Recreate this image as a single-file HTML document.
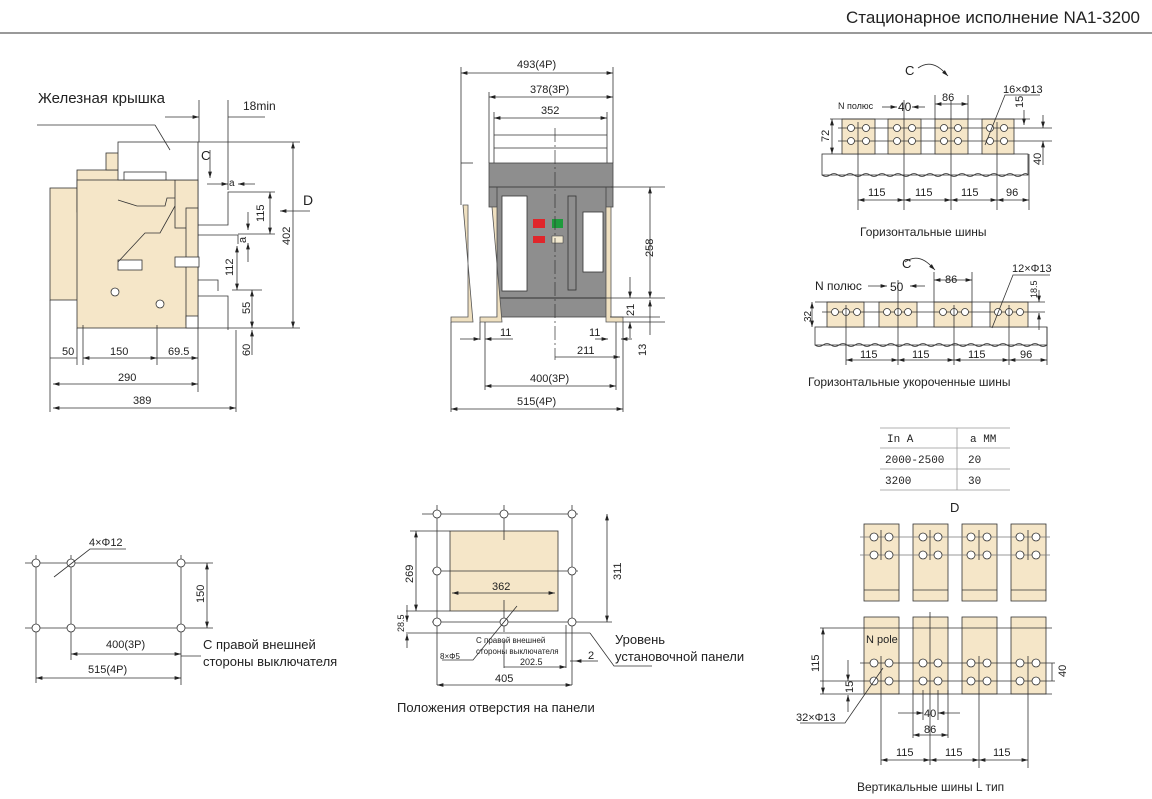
<!DOCTYPE html>
<html><head><meta charset="utf-8"><style>
html,body{margin:0;padding:0;background:#fff}
svg{display:block}
text{font-family:"Liberation Sans",sans-serif;fill:#222}
</style></head><body>
<svg width="1152" height="799" viewBox="0 0 1152 799" xmlns="http://www.w3.org/2000/svg">
<defs>
<marker id="a" viewBox="0 0 10 6" refX="10" refY="3" markerWidth="8" markerHeight="5" orient="auto-start-reverse"><path d="M0,0L10,3L0,6z" fill="#222"/></marker>
</defs>
<text x="1140" y="23" font-size="17" text-anchor="end">Стационарное исполнение NA1-3200</text>
<line x1="0" y1="33" x2="1152" y2="33" stroke="#333" stroke-width="1"/>

<!-- LEFT SIDE VIEW -->
<g stroke="#333" stroke-width="0.8" fill="#f5e6c8">
<rect x="50" y="188" width="28" height="112"/>
<rect x="77" y="170" width="42" height="42"/>
<rect x="106" y="153" width="13" height="17"/>
<rect x="77" y="180" width="121" height="148"/>
<rect x="175" y="180" width="23" height="48"/>
<rect x="186" y="208" width="12" height="117"/>
<rect x="186" y="316" width="12" height="12" fill="#fff"/>
<rect x="118" y="142" width="80" height="38" fill="#fff"/>
<rect x="124" y="172" width="42" height="8" fill="#fff"/>
<rect x="118" y="260" width="24" height="10" fill="#fff"/>
<rect x="175" y="257" width="24" height="10" fill="#fff"/>
<circle cx="115" cy="292" r="4" fill="#fff"/><circle cx="160" cy="304" r="4" fill="#fff"/>
</g>
<g stroke="#333" stroke-width="0.8" fill="none">
<polyline points="118,200 137,206 165,206 167,198 175,198"/>
<polyline points="118,262 145,233 160,233 175,206"/>
<line x1="37" y1="125" x2="155" y2="125"/><line x1="155" y1="125" x2="170" y2="150"/>
<polyline points="198,225 228,225 228,192 235,192"/>
<polyline points="198,235 238,235 238,244"/>
<polyline points="198,280 218,280 218,291"/>
<polyline points="198,296 228,296 228,330"/>
<line x1="235" y1="192" x2="275" y2="192"/><line x1="238" y1="234" x2="275" y2="234"/>
<line x1="232" y1="290" x2="262" y2="290"/><line x1="198" y1="328" x2="300" y2="328"/>
<line x1="198" y1="142" x2="300" y2="142"/>
<line x1="199" y1="100" x2="199" y2="142"/><line x1="228" y1="100" x2="228" y2="190"/>
<line x1="165" y1="117" x2="199" y2="117" marker-end="url(#a)"/><line x1="228" y1="117" x2="265" y2="117"/>
<line x1="210" y1="150" x2="210" y2="178" marker-end="url(#a)"/>
<line x1="207" y1="184" x2="228" y2="184" marker-end="url(#a)"/><line x1="255" y1="184" x2="238" y2="184" marker-end="url(#a)"/>
<line x1="270" y1="192" x2="270" y2="234" marker-start="url(#a)" marker-end="url(#a)"/>
<line x1="248" y1="212" x2="248" y2="230" marker-end="url(#a)"/><line x1="248" y1="262" x2="248" y2="243" marker-end="url(#a)"/>
<line x1="237" y1="246" x2="237" y2="290" marker-start="url(#a)" marker-end="url(#a)"/>
<line x1="252" y1="290" x2="252" y2="328" marker-start="url(#a)" marker-end="url(#a)"/>
<line x1="252" y1="355" x2="252" y2="330" marker-end="url(#a)"/>
<line x1="293" y1="142" x2="293" y2="328" marker-start="url(#a)" marker-end="url(#a)"/>
<line x1="310" y1="211" x2="280" y2="211" marker-end="url(#a)"/>
<line x1="50" y1="300" x2="50" y2="412"/><line x1="77" y1="328" x2="77" y2="365"/><line x1="83" y1="325" x2="83" y2="365"/>
<line x1="157" y1="325" x2="157" y2="365"/><line x1="198" y1="328" x2="198" y2="392"/><line x1="236" y1="330" x2="236" y2="412"/>
<line x1="50" y1="358" x2="77" y2="358"/>
<line x1="83" y1="358" x2="157" y2="358" marker-start="url(#a)" marker-end="url(#a)"/>
<line x1="157" y1="358" x2="198" y2="358" marker-end="url(#a)"/>
<line x1="53" y1="384" x2="198" y2="384" marker-start="url(#a)" marker-end="url(#a)"/>
<line x1="53" y1="408" x2="236" y2="408" marker-start="url(#a)" marker-end="url(#a)"/>
</g>
<text x="38" y="103" font-size="15">Железная крышка</text>
<text x="243" y="110" font-size="12">18min</text>
<text x="201" y="160" font-size="13">C</text>
<text x="303" y="205" font-size="14">D</text>
<text x="229" y="186" font-size="10">a</text>
<text x="62" y="355" font-size="11">50</text><text x="110" y="355" font-size="11">150</text><text x="168" y="355" font-size="11">69.5</text>
<text x="118" y="381" font-size="11">290</text><text x="133" y="404" font-size="11">389</text>
<g font-size="11"><text transform="translate(264,222) rotate(-90)">115</text><text transform="translate(246,243) rotate(-90)">a</text>
<text transform="translate(233,276) rotate(-90)">112</text><text transform="translate(250,314) rotate(-90)">55</text>
<text transform="translate(250,356) rotate(-90)">60</text><text transform="translate(290,245) rotate(-90)">402</text></g>

<!-- MIDDLE FRONT VIEW -->
<g stroke="#333" stroke-width="0.8" fill="none">
<line x1="461" y1="67" x2="461" y2="205"/><line x1="461" y1="163" x2="473" y2="163"/>
<line x1="613" y1="67" x2="613" y2="163"/><line x1="489" y1="92" x2="489" y2="163"/><line x1="494" y1="112" x2="494" y2="163"/><line x1="607" y1="112" x2="607" y2="163"/>
<line x1="461" y1="73" x2="613" y2="73" marker-start="url(#a)" marker-end="url(#a)"/>
<line x1="489" y1="97" x2="613" y2="97" marker-start="url(#a)" marker-end="url(#a)"/>
<line x1="494" y1="118" x2="607" y2="118" marker-start="url(#a)" marker-end="url(#a)"/>
<line x1="494" y1="135" x2="607" y2="135"/><line x1="494" y1="148" x2="607" y2="148"/>
</g>
<rect x="489" y="163" width="124" height="44" fill="#8e8e8e" stroke="#444" stroke-width="0.8"/>
<rect x="497" y="187" width="109" height="130" fill="#8e8e8e" stroke="#444" stroke-width="0.8"/>
<line x1="489" y1="187" x2="613" y2="187" stroke="#444"/>
<line x1="497" y1="298" x2="606" y2="298" stroke="#333"/>
<rect x="502" y="196" width="25" height="95" fill="#fff" stroke="#333" stroke-width="0.8"/>
<rect x="583" y="212" width="20" height="60" fill="#fff" stroke="#333" stroke-width="0.8"/>
<rect x="568" y="196" width="8" height="94" fill="#8e8e8e" stroke="#333" stroke-width="0.8"/>
<rect x="533" y="219" width="12" height="9" fill="#e0262b"/><rect x="552" y="219" width="11" height="9" fill="#1e9a3c"/>
<rect x="533" y="236" width="12" height="7" fill="#e0262b"/><rect x="552" y="236" width="11" height="7" fill="#f3ead0" stroke="#333" stroke-width="0.5"/>
<line x1="555" y1="128" x2="555" y2="360" stroke="#333" stroke-width="0.7" stroke-dasharray="14,3,2,3"/>
<g fill="#efe0c0" stroke="#555" stroke-width="0.8">
<path d="M463,205 h5 v112 h-17 v5 h22 z"/>
<path d="M492,207 h5 v110 h-17 v5 h22 z"/>
<path d="M606,207 h5 v110 h12 v5 h-17 z"/>
</g>
<g stroke="#333" stroke-width="0.8" fill="none">
<line x1="611" y1="187" x2="665" y2="187"/><line x1="606" y1="298" x2="665" y2="298"/><line x1="610" y1="317" x2="660" y2="317"/><line x1="623" y1="322" x2="665" y2="322"/>
<line x1="650" y1="187" x2="650" y2="298" marker-start="url(#a)" marker-end="url(#a)"/>
<line x1="630" y1="277" x2="630" y2="298" marker-end="url(#a)"/><line x1="650" y1="335" x2="650" y2="300" marker-end="url(#a)"/>
<line x1="630" y1="338" x2="630" y2="322" marker-end="url(#a)"/>
<line x1="451" y1="322" x2="451" y2="412"/><line x1="480" y1="322" x2="480" y2="340"/><line x1="485" y1="322" x2="485" y2="390"/>
<line x1="623" y1="322" x2="623" y2="412"/><line x1="616" y1="322" x2="616" y2="390"/>
<line x1="460" y1="339" x2="480" y2="339" marker-end="url(#a)"/><line x1="513" y1="339" x2="485" y2="339" marker-end="url(#a)"/>
<line x1="595" y1="339" x2="608" y2="339" marker-end="url(#a)"/><line x1="632" y1="339" x2="621" y2="339" marker-end="url(#a)"/>
<line x1="555" y1="357" x2="620" y2="357" marker-end="url(#a)"/>
<line x1="485" y1="386" x2="616" y2="386" marker-start="url(#a)" marker-end="url(#a)"/>
<line x1="451" y1="409" x2="623" y2="409" marker-start="url(#a)" marker-end="url(#a)"/>
</g>
<g font-size="11">
<text x="517" y="68">493(4P)</text><text x="530" y="93">378(3P)</text><text x="541" y="114">352</text>
<text x="500" y="336">11</text><text x="589" y="336">11</text><text x="577" y="354">211</text>
<text x="530" y="382">400(3P)</text><text x="517" y="405">515(4P)</text>
<text transform="translate(653,257) rotate(-90)">258</text><text transform="translate(634,316) rotate(-90)">21</text><text transform="translate(646,356) rotate(-90)">13</text>
</g>

<!-- RIGHT TOP: horizontal busbars -->
<g stroke="#333" stroke-width="0.8">
<rect x="822" y="154" width="206" height="21" fill="#fff"/>
<path d="M822,175 q4,3 8,0 t8,0 t8,0 t8,0 t8,0 t8,0 t8,0 t8,0 t8,0 t8,0 t8,0 t8,0 t8,0 t8,0 t8,0 t8,0 t8,0 t8,0 t8,0 t8,0 t8,0 t8,0 t8,0 t8,0 t8,0 t6,0" fill="none"/>
<g fill="#f5e6c8"><rect x="842" y="119" width="33" height="35"/><rect x="888" y="119" width="33" height="35"/><rect x="935" y="119" width="33" height="35"/><rect x="982" y="119" width="32" height="35"/></g>
</g>
<g stroke="#333" stroke-width="0.8" fill="none">
<line x1="830" y1="119" x2="1030" y2="119"/>
<line x1="838" y1="128" x2="1052" y2="128"/><line x1="838" y1="141" x2="1052" y2="141"/>
<g fill="#fff"><circle cx="851" cy="128" r="3.5"/><circle cx="866" cy="128" r="3.5"/><circle cx="851" cy="141" r="3.5"/><circle cx="866" cy="141" r="3.5"/>
<circle cx="897" cy="128" r="3.5"/><circle cx="912" cy="128" r="3.5"/><circle cx="897" cy="141" r="3.5"/><circle cx="912" cy="141" r="3.5"/>
<circle cx="944" cy="128" r="3.5"/><circle cx="958" cy="128" r="3.5"/><circle cx="944" cy="141" r="3.5"/><circle cx="958" cy="141" r="3.5"/>
<circle cx="990" cy="128" r="3.5"/><circle cx="1004" cy="128" r="3.5"/><circle cx="990" cy="141" r="3.5"/><circle cx="1004" cy="141" r="3.5"/></g>
<line x1="858" y1="122" x2="858" y2="210"/><line x1="904" y1="100" x2="904" y2="210"/><line x1="951" y1="100" x2="951" y2="210"/><line x1="997" y1="122" x2="997" y2="210"/><line x1="1029" y1="154" x2="1029" y2="210"/>
<line x1="935" y1="95" x2="935" y2="119"/><line x1="968" y1="95" x2="968" y2="119"/>
<line x1="935" y1="104" x2="968" y2="104" marker-start="url(#a)" marker-end="url(#a)"/>
<line x1="882" y1="107" x2="897" y2="107" marker-end="url(#a)"/><line x1="925" y1="107" x2="912" y2="107" marker-end="url(#a)"/>
<line x1="832" y1="119" x2="832" y2="154" marker-start="url(#a)" marker-end="url(#a)"/>
<line x1="858" y1="200" x2="904" y2="200" marker-start="url(#a)" marker-end="url(#a)"/>
<line x1="904" y1="200" x2="951" y2="200" marker-start="url(#a)" marker-end="url(#a)"/>
<line x1="951" y1="200" x2="997" y2="200" marker-start="url(#a)" marker-end="url(#a)"/>
<line x1="997" y1="200" x2="1029" y2="200" marker-start="url(#a)" marker-end="url(#a)"/>
<polyline points="985,145 1005,95 1040,95"/>
<line x1="1024" y1="110" x2="1024" y2="125" marker-end="url(#a)"/><line x1="1043" y1="115" x2="1043" y2="128" marker-end="url(#a)"/>
<line x1="1043" y1="165" x2="1043" y2="141" marker-end="url(#a)"/>
<path d="M918,68 q14,-10 28,6" /><line x1="946" y1="74" x2="948" y2="76" marker-end="url(#a)"/>
</g>
<g font-size="11">
<text x="905" y="75" font-size="13">C</text><text x="838" y="109" font-size="9">N полюс</text><text x="898" y="111" font-size="12">40</text>
<text x="942" y="101">86</text><text x="1003" y="93">16×Φ13</text>
<text x="868" y="196">115</text><text x="915" y="196">115</text><text x="961" y="196">115</text><text x="1006" y="196">96</text>
<text transform="translate(829,142) rotate(-90)">72</text><text transform="translate(1023,108) rotate(-90)">15</text><text transform="translate(1041,165) rotate(-90)">40</text>
</g>
<text x="860" y="236" font-size="12">Горизонтальные шины</text>

<!-- RIGHT MIDDLE: short busbars -->
<g stroke="#333" stroke-width="0.8">
<rect x="815" y="327" width="232" height="18" fill="#fff"/>
<path d="M815,345 q4,3 8,0 t8,0 t8,0 t8,0 t8,0 t8,0 t8,0 t8,0 t8,0 t8,0 t8,0 t8,0 t8,0 t8,0 t8,0 t8,0 t8,0 t8,0 t8,0 t8,0 t8,0 t8,0 t8,0 t8,0 t8,0 t8,0 t8,0 t8,0 t8,0" fill="none"/>
<g fill="#f5e6c8"><rect x="827" y="302" width="37" height="25"/><rect x="879" y="302" width="38" height="25"/><rect x="934" y="302" width="38" height="25"/><rect x="990" y="302" width="38" height="25"/></g>
</g>
<g stroke="#333" stroke-width="0.8" fill="none">
<line x1="815" y1="302" x2="1045" y2="302"/><line x1="822" y1="312" x2="1045" y2="312"/>
<g fill="#fff"><circle cx="835" cy="312" r="3.5"/><circle cx="846" cy="312" r="3.5"/><circle cx="857" cy="312" r="3.5"/>
<circle cx="887" cy="312" r="3.5"/><circle cx="898" cy="312" r="3.5"/><circle cx="908" cy="312" r="3.5"/>
<circle cx="943" cy="312" r="3.5"/><circle cx="954" cy="312" r="3.5"/><circle cx="965" cy="312" r="3.5"/>
<circle cx="998" cy="312" r="3.5"/><circle cx="1009" cy="312" r="3.5"/><circle cx="1020" cy="312" r="3.5"/></g>
<line x1="846" y1="305" x2="846" y2="365"/><line x1="898" y1="280" x2="898" y2="365"/><line x1="954" y1="305" x2="954" y2="365"/><line x1="1009" y1="305" x2="1009" y2="365"/><line x1="1047" y1="327" x2="1047" y2="365"/>
<line x1="934" y1="272" x2="934" y2="302"/><line x1="972" y1="272" x2="972" y2="302"/>
<line x1="934" y1="280" x2="972" y2="280" marker-start="url(#a)" marker-end="url(#a)"/>
<line x1="868" y1="286" x2="887" y2="286" marker-end="url(#a)"/><line x1="925" y1="286" x2="910" y2="286" marker-end="url(#a)"/>
<line x1="812" y1="302" x2="812" y2="327" marker-start="url(#a)" marker-end="url(#a)"/>
<line x1="846" y1="360" x2="898" y2="360" marker-start="url(#a)" marker-end="url(#a)"/>
<line x1="898" y1="360" x2="954" y2="360" marker-start="url(#a)" marker-end="url(#a)"/>
<line x1="954" y1="360" x2="1009" y2="360" marker-start="url(#a)" marker-end="url(#a)"/>
<line x1="1009" y1="360" x2="1047" y2="360" marker-start="url(#a)" marker-end="url(#a)"/>
<polyline points="992,328 1013,275 1050,275"/>
<line x1="1039" y1="290" x2="1039" y2="302" marker-end="url(#a)"/><line x1="1039" y1="330" x2="1039" y2="313" marker-end="url(#a)"/>
<path d="M905,262 q14,-10 28,6"/><line x1="933" y1="268" x2="935" y2="270" marker-end="url(#a)"/>
</g>
<g font-size="11">
<text x="902" y="268" font-size="13">C</text><text x="815" y="290" font-size="12">N полюс</text><text x="890" y="291" font-size="12">50</text>
<text x="945" y="283">86</text><text x="1012" y="272">12×Φ13</text>
<text x="860" y="358">115</text><text x="912" y="358">115</text><text x="968" y="358">115</text><text x="1020" y="358">96</text>
<text transform="translate(811,322) rotate(-90)" font-size="10">32</text><text transform="translate(1037,298) rotate(-90)" font-size="9">18.5</text>
</g>
<text x="808" y="386" font-size="12">Горизонтальные укороченные шины</text>

<!-- TABLE -->
<g stroke="#999" stroke-width="0.8" fill="none">
<line x1="880" y1="428" x2="1010" y2="428"/><line x1="880" y1="448" x2="1010" y2="448"/><line x1="880" y1="469" x2="1010" y2="469"/><line x1="880" y1="490" x2="1010" y2="490"/>
<line x1="957" y1="428" x2="957" y2="490"/>
</g>
<g font-size="11" font-family="Liberation Mono"><text x="887" y="442" style="font-family:'Liberation Mono'">In A</text><text x="970" y="442" style="font-family:'Liberation Mono'">a MM</text>
<text x="885" y="463" style="font-family:'Liberation Mono'">2000-2500</text><text x="968" y="463" style="font-family:'Liberation Mono'">20</text>
<text x="885" y="484" style="font-family:'Liberation Mono'">3200</text><text x="968" y="484" style="font-family:'Liberation Mono'">30</text></g>

<!-- RIGHT BOTTOM: vertical busbars -->
<text x="950" y="512" font-size="13">D</text>
<g stroke="#333" stroke-width="0.8" fill="#f5e6c8">
<rect x="864" y="524" width="35" height="77"/><rect x="913" y="524" width="35" height="77"/><rect x="962" y="524" width="35" height="77"/><rect x="1011" y="524" width="35" height="77"/>
<rect x="864" y="617" width="35" height="77"/><rect x="913" y="617" width="35" height="77"/><rect x="962" y="617" width="35" height="77"/><rect x="1011" y="617" width="35" height="77"/>
</g>
<g stroke="#333" stroke-width="0.8" fill="none">
<line x1="864" y1="590" x2="899" y2="590"/><line x1="913" y1="590" x2="948" y2="590"/><line x1="962" y1="590" x2="997" y2="590"/><line x1="1011" y1="590" x2="1046" y2="590"/>
<line x1="860" y1="537" x2="1050" y2="537" stroke="#777"/><line x1="860" y1="555" x2="1050" y2="555" stroke="#777"/>
<line x1="820" y1="628" x2="1052" y2="628"/><line x1="860" y1="663" x2="1055" y2="663"/><line x1="820" y1="681" x2="1055" y2="681"/><line x1="820" y1="694" x2="1052" y2="694"/>
<g fill="#fff">
<circle cx="874" cy="537" r="4"/><circle cx="889" cy="537" r="4"/><circle cx="874" cy="555" r="4"/><circle cx="889" cy="555" r="4"/>
<circle cx="923" cy="537" r="4"/><circle cx="938" cy="537" r="4"/><circle cx="923" cy="555" r="4"/><circle cx="938" cy="555" r="4"/>
<circle cx="971" cy="537" r="4"/><circle cx="987" cy="537" r="4"/><circle cx="971" cy="555" r="4"/><circle cx="987" cy="555" r="4"/>
<circle cx="1020" cy="537" r="4"/><circle cx="1036" cy="537" r="4"/><circle cx="1020" cy="555" r="4"/><circle cx="1036" cy="555" r="4"/>
<circle cx="874" cy="663" r="4"/><circle cx="889" cy="663" r="4"/><circle cx="874" cy="681" r="4"/><circle cx="889" cy="681" r="4"/>
<circle cx="923" cy="663" r="4"/><circle cx="938" cy="663" r="4"/><circle cx="923" cy="681" r="4"/><circle cx="938" cy="681" r="4"/>
<circle cx="971" cy="663" r="4"/><circle cx="987" cy="663" r="4"/><circle cx="971" cy="681" r="4"/><circle cx="987" cy="681" r="4"/>
<circle cx="1020" cy="663" r="4"/><circle cx="1036" cy="663" r="4"/><circle cx="1020" cy="681" r="4"/><circle cx="1036" cy="681" r="4"/></g>
<line x1="881" y1="530" x2="881" y2="560"/><line x1="930" y1="530" x2="930" y2="560"/><line x1="979" y1="530" x2="979" y2="560"/><line x1="1028" y1="530" x2="1028" y2="560"/>
<line x1="881" y1="656" x2="881" y2="765"/><line x1="930" y1="612" x2="930" y2="765"/><line x1="979" y1="656" x2="979" y2="768"/><line x1="1028" y1="656" x2="1028" y2="768"/>
<line x1="913" y1="690" x2="913" y2="738"/><line x1="948" y1="690" x2="948" y2="738"/>
<line x1="923" y1="690" x2="923" y2="720"/><line x1="938" y1="690" x2="938" y2="720"/>
<line x1="898" y1="713" x2="923" y2="713" marker-end="url(#a)"/><line x1="960" y1="713" x2="938" y2="713" marker-end="url(#a)"/>
<line x1="913" y1="735" x2="948" y2="735" marker-start="url(#a)" marker-end="url(#a)"/>
<line x1="881" y1="760" x2="930" y2="760" marker-start="url(#a)" marker-end="url(#a)"/>
<line x1="930" y1="760" x2="979" y2="760" marker-start="url(#a)" marker-end="url(#a)"/>
<line x1="979" y1="760" x2="1028" y2="760" marker-start="url(#a)" marker-end="url(#a)"/>
<line x1="823" y1="628" x2="823" y2="694" marker-start="url(#a)" marker-end="url(#a)"/>
<line x1="848" y1="660" x2="848" y2="681" marker-end="url(#a)"/><line x1="848" y1="712" x2="848" y2="695" marker-end="url(#a)"/>
<line x1="1052" y1="663" x2="1052" y2="681"/>
<polyline points="800,723 845,723 883,668"/>
</g>
<g font-size="11">
<text x="866" y="643" font-size="11">N pole</text>
<text transform="translate(819,672) rotate(-90)">115</text><text transform="translate(853,693) rotate(-90)">15</text><text transform="translate(1066,677) rotate(-90)">40</text>
<text x="924" y="717">40</text><text x="924" y="733">86</text><text x="796" y="721">32×Φ13</text>
<text x="896" y="756">115</text><text x="945" y="756">115</text><text x="993" y="756">115</text>
</g>
<text x="857" y="791" font-size="12">Вертикальные шины  L тип</text>

<!-- BOTTOM LEFT -->
<g stroke="#333" stroke-width="0.8" fill="none">
<line x1="25" y1="563" x2="213" y2="563"/><line x1="25" y1="628" x2="213" y2="628"/>
<line x1="36" y1="555" x2="36" y2="683"/><line x1="71" y1="555" x2="71" y2="660"/><line x1="181" y1="555" x2="181" y2="685"/>
<g fill="#fff"><circle cx="36" cy="563" r="4"/><circle cx="71" cy="563" r="4"/><circle cx="181" cy="563" r="4"/>
<circle cx="36" cy="628" r="4"/><circle cx="71" cy="628" r="4"/><circle cx="181" cy="628" r="4"/></g>
<polyline points="54,577 90,549 126,549"/>
<line x1="207" y1="563" x2="207" y2="628" marker-start="url(#a)" marker-end="url(#a)"/>
<line x1="71" y1="654" x2="181" y2="654" marker-start="url(#a)" marker-end="url(#a)"/>
<line x1="36" y1="678" x2="181" y2="678" marker-start="url(#a)" marker-end="url(#a)"/>
<line x1="181" y1="656" x2="201" y2="656"/>
</g>
<text x="89" y="546" font-size="11">4×Φ12</text>
<text transform="translate(204,603) rotate(-90)" font-size="11">150</text>
<text x="106" y="648" font-size="11">400(3P)</text><text x="88" y="673" font-size="11">515(4P)</text>
<text x="203" y="649" font-size="13">С правой внешней</text><text x="203" y="666" font-size="13">стороны выключателя</text>

<!-- BOTTOM MIDDLE -->
<rect x="450" y="531" width="108" height="80" fill="#f5e6c8" stroke="#333" stroke-width="0.8"/>
<g stroke="#333" stroke-width="0.8" fill="none">
<line x1="422" y1="514" x2="578" y2="514"/><line x1="432" y1="571" x2="578" y2="571"/><line x1="432" y1="622" x2="612" y2="622"/>
<line x1="410" y1="531" x2="450" y2="531"/><line x1="406" y1="611" x2="450" y2="611"/><line x1="406" y1="633" x2="590" y2="633"/>
<line x1="437" y1="505" x2="437" y2="685"/><line x1="504" y1="505" x2="504" y2="540"/><line x1="504" y1="600" x2="504" y2="632"/><line x1="572" y1="505" x2="572" y2="685"/>
<line x1="504" y1="640" x2="504" y2="668"/><line x1="566" y1="625" x2="566" y2="668"/>
<g fill="#fff"><circle cx="437" cy="514" r="4"/><circle cx="504" cy="514" r="4"/><circle cx="572" cy="514" r="4"/>
<circle cx="437" cy="571" r="4"/><circle cx="572" cy="571" r="4"/>
<circle cx="437" cy="622" r="4"/><circle cx="504" cy="622" r="4"/><circle cx="572" cy="622" r="4"/></g>
<line x1="416" y1="531" x2="416" y2="611" marker-start="url(#a)" marker-end="url(#a)"/>
<line x1="607" y1="514" x2="607" y2="622" marker-start="url(#a)" marker-end="url(#a)"/>
<line x1="407" y1="605" x2="407" y2="622" marker-end="url(#a)"/><line x1="407" y1="648" x2="407" y2="634" marker-end="url(#a)"/>
<line x1="452" y1="593" x2="555" y2="593" marker-start="url(#a)" marker-end="url(#a)"/>
<line x1="504" y1="667" x2="566" y2="667" marker-end="url(#a)"/>
<line x1="437" y1="685" x2="572" y2="685" marker-start="url(#a)" marker-end="url(#a)"/>
<line x1="575" y1="661" x2="570" y2="661"/><line x1="590" y1="661" x2="575" y2="661" marker-end="url(#a)"/><line x1="590" y1="661" x2="598" y2="661"/>
<polyline points="442,660 473,660 517,606"/>
<polyline points="590,633 614,666 652,666"/>
</g>
<text x="492" y="590" font-size="11">362</text>
<text transform="translate(413,583) rotate(-90)" font-size="11">269</text>
<text transform="translate(621,580) rotate(-90)" font-size="11">311</text>
<text transform="translate(404,632) rotate(-90)" font-size="9">28.5</text>
<text x="476" y="643" font-size="8">С правой внешней</text><text x="476" y="654" font-size="8">стороны выключателя</text>
<text x="440" y="659" font-size="8">8×Φ5</text><text x="520" y="665" font-size="9">202.5</text>
<text x="588" y="659" font-size="11">2</text><text x="495" y="682" font-size="11">405</text>
<text x="615" y="644" font-size="13">Уровень</text><text x="615" y="661" font-size="13">установочной панели</text>
<text x="397" y="712" font-size="13">Положения отверстия на панели</text>
</svg>
</body></html>
